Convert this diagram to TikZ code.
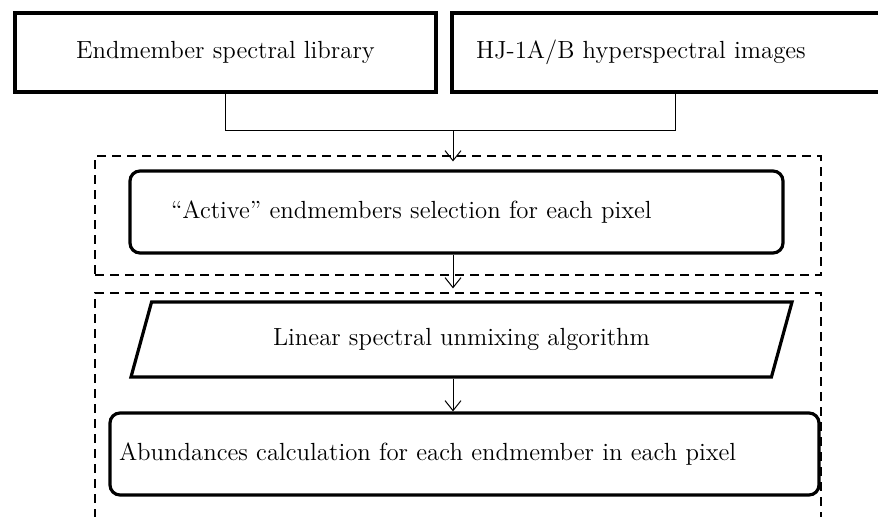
\documentclass[tikz,border=0pt]{standalone}
\usepackage{tikz}
\usetikzlibrary{arrows.meta}
\usetikzlibrary{shapes.geometric}

\begin{document}
\begin{tikzpicture}[x=0.5pt, y=-0.5pt,
            font=\fontsize{12.4}{15}\selectfont,
            src-box/.style={rectangle,draw,line width=1.6pt},
            proc-box/.style={rectangle,rounded corners=5pt,draw,line width=1.6pt,align=left},
            algo-box/.style={trapezium,trapezium left angle=60,trapezium right angle=120,
                trapezium stretches body,draw,line width=1.6pt},
            group-box/.style={rectangle,draw,line width=1pt,dash pattern=on 4.5pt off 3pt},
            link/.style={line width=0.5pt},
            flow/.style={line width=0.5pt,-{Straight Barb[length=5pt,width=8pt]}},
        ]
            \useasboundingbox (0,0) rectangle (878,516);
            \clip (0,0) rectangle (878,516);

            \node[group-box,minimum width=363pt,minimum height=59.5pt] (grp1) at (458,215.5) {};
            \node[group-box,minimum width=363pt,minimum height=118.5pt] (grp2) at (458,411.5) {};

            \node[src-box,minimum width=210.5pt,minimum height=39.5pt] (lib) at (225.5,52.5) {Endmember spectral library};
            \node[src-box,minimum height=39.5pt,text width=199pt,inner xsep=12pt,align=left] (hsi) at (675,52.5) {HJ-1A/B hyperspectral images};

            \node[proc-box,minimum height=41pt,text width=285.5pt,inner xsep=20.5pt] (active) at (456.5,212) {``Active'' endmembers selection for each pixel};
            \node[algo-box,minimum width=330.5pt,minimum height=37.5pt] (lsu) at (461.5,339.5) {Linear spectral unmixing algorithm};
            \node[proc-box,minimum height=41pt,text width=345.5pt,inner xsep=4.5pt] (abund) at (464.5,454) {Abundances calculation for each endmember in each pixel};

            \coordinate (join) at (453,130);
            \draw[link] (lib.south) |- (join);
            \draw[link] (hsi.south) |- (join);
            \draw[flow,shorten >=4pt] (join) -- (active.north -| join);
            \draw[flow,shorten >=6pt] (active.south -| join) -- (lsu.north -| join);
            \draw[flow] (lsu.south -| join) -- (abund.north -| join);
        \end{tikzpicture}
\end{document}
